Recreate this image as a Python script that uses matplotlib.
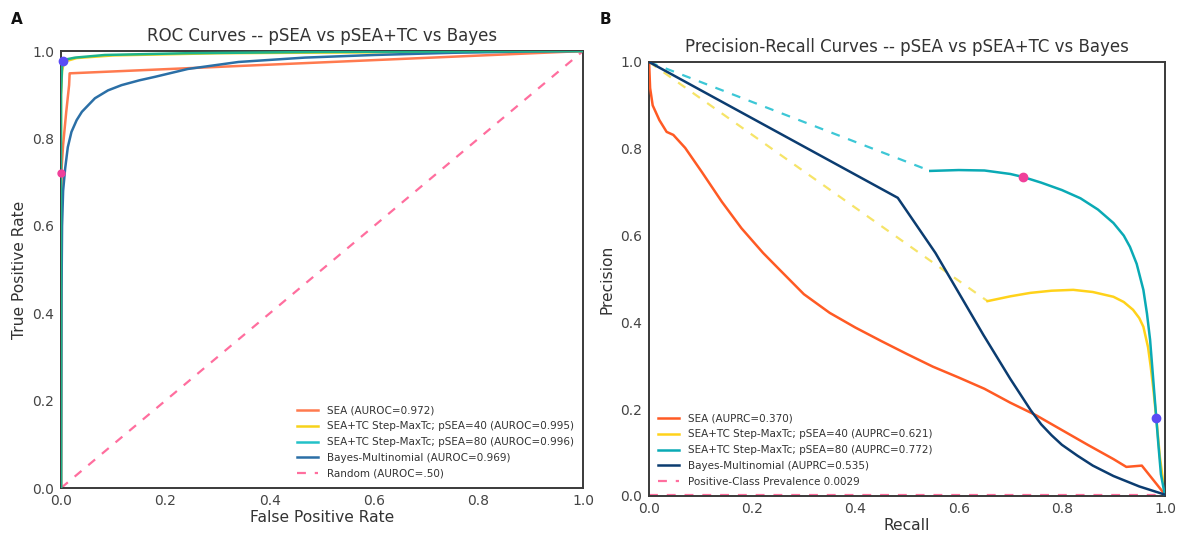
import matplotlib
matplotlib.use("Agg")
import matplotlib.pyplot as plt
from matplotlib.lines import Line2D

# ---------------- ROC data ----------------
roc_sea_fpr = [0, 0, 0.001, 0.004, 0.010, 0.0155, 0.0165, 1.0]
roc_sea_tpr = [0, 0.50, 0.73, 0.785, 0.861, 0.922, 0.949, 1.0]

roc_tc40_fpr = [0, 0, 0.002, 0.005, 0.01, 0.03, 0.1, 0.3, 1.0]
roc_tc40_tpr = [0, 0.90, 0.955, 0.970, 0.977, 0.984, 0.990, 0.995, 1.0]

roc_tc80_fpr = [0, 0, 0.002, 0.004, 0.010, 0.027, 0.084, 0.24, 0.5, 1.0]
roc_tc80_tpr = [0, 0.90, 0.965, 0.977, 0.981, 0.985, 0.991, 0.995, 0.998, 1.0]

roc_bayes_fpr = [0, 0.001, 0.002, 0.004, 0.008, 0.013, 0.020, 0.030, 0.040, 0.065, 0.090,
                 0.116, 0.150, 0.180, 0.243, 0.340, 0.467, 0.60, 0.75, 0.90, 1.0]
roc_bayes_tpr = [0, 0.45, 0.60, 0.68, 0.732, 0.780, 0.815, 0.842, 0.861, 0.892, 0.910,
                 0.922, 0.933, 0.941, 0.959, 0.975, 0.985, 0.991, 0.996, 0.999, 1.0]

roc_random = [0, 1]
roc_pt_purple = (0.004, 0.977)
roc_pt_pink = (0.0, 0.72)

roc_labels = ["SEA (AUROC=0.972)",
              "SEA+TC Step-MaxTc; pSEA=40 (AUROC=0.995)",
              "SEA+TC Step-MaxTc; pSEA=80 (AUROC=0.996)",
              "Bayes-Multinomial (AUROC=0.969)",
              "Random (AUROC=.50)"]

# ---------------- PR data ----------------
pr_sea_rec = [0, 0.002, 0.007, 0.020, 0.034, 0.047, 0.070, 0.102, 0.141, 0.179, 0.221,
              0.25, 0.30, 0.35, 0.40, 0.45, 0.50, 0.55, 0.60, 0.65, 0.70, 0.75, 0.80,
              0.85, 0.90, 0.925, 0.955, 1.0]
pr_sea_prec = [1.0, 0.94, 0.900, 0.866, 0.839, 0.832, 0.802, 0.747, 0.678, 0.617, 0.560,
               0.525, 0.465, 0.422, 0.388, 0.357, 0.327, 0.298, 0.273, 0.247, 0.215, 0.186, 0.152,
               0.118, 0.085, 0.067, 0.070, 0.003]

pr_tc40_dash_rec = [0, 0.656]
pr_tc40_dash_prec = [1.0, 0.449]
pr_tc40_rec = [0.656, 0.70, 0.739, 0.78, 0.822, 0.86, 0.90, 0.92, 0.938, 0.95, 0.958, 0.967,
               0.972, 0.977, 0.983, 0.990, 1.0]
pr_tc40_prec = [0.449, 0.460, 0.468, 0.473, 0.475, 0.470, 0.459, 0.447, 0.429, 0.410, 0.390,
                0.343, 0.300, 0.250, 0.180, 0.090, 0.0]

pr_tc80_dash_rec = [0, 0.545]
pr_tc80_dash_prec = [1.0, 0.749]
pr_tc80_rec = [0.545, 0.60, 0.65, 0.70, 0.725, 0.76, 0.80, 0.836, 0.87, 0.90, 0.92, 0.932,
               0.945, 0.958, 0.965, 0.971, 0.977, 0.983, 0.987, 0.992, 1.0]
pr_tc80_prec = [0.749, 0.751, 0.750, 0.742, 0.735, 0.722, 0.705, 0.686, 0.660, 0.629, 0.600,
                0.574, 0.535, 0.475, 0.420, 0.360, 0.270, 0.180, 0.120, 0.050, 0.0]

pr_bayes_rec = [0, 0.482, 0.555, 0.648, 0.70, 0.74, 0.76, 0.78, 0.80, 0.83, 0.86, 0.90, 0.95, 1.0]
pr_bayes_prec = [1.0, 0.687, 0.560, 0.371, 0.270, 0.197, 0.165, 0.140, 0.118, 0.093, 0.070,
                 0.046, 0.022, 0.003]

prevalence = 0.0029
pr_pt_pink = (0.725, 0.735)
pr_pt_purple = (0.983, 0.18)

pr_labels = ["SEA (AUPRC=0.370)",
             "SEA+TC Step-MaxTc; pSEA=40 (AUPRC=0.621)",
             "SEA+TC Step-MaxTc; pSEA=80 (AUPRC=0.772)",
             "Bayes-Multinomial (AUPRC=0.535)",
             "Positive-Class Prevalence 0.0029"]

ticks = [0.0, 0.2, 0.4, 0.6, 0.8, 1.0]

plt.rcParams['font.family'] = ['DejaVu Sans']

fig = plt.figure(figsize=(11.78, 5.34), dpi=100)
ax1 = fig.add_axes([0.0518, 0.0861, 0.4431, 0.8183])
ax2 = fig.add_axes([0.5510, 0.0712, 0.4380, 0.8127])

def style(ax):
    ax.set_xlim(0, 1)
    ax.set_ylim(0, 1)
    ax.set_xticks(ticks)
    ax.set_yticks(ticks)
    ax.set_xticklabels([f"{t:.1f}" for t in ticks])
    ax.set_yticklabels([f"{t:.1f}" for t in ticks])
    ax.tick_params(length=0, labelsize=10, colors="#444444", pad=5)
    ax.tick_params(axis="x", pad=4)
    for s in ax.spines.values():
        s.set_color("#3a3a3a")
        s.set_linewidth(1.4)

# ROC
c_sea = "#FF7A4F"
c_y = "#F7D21A"
c_g = "#1DB38A"
c_b = "#2B6FA6"
c_pink = "#FF6E9E"
ax1.plot(roc_random, roc_random, ls=(0, (4, 4)), color=c_pink, lw=1.6, zorder=1)
ax1.plot(roc_sea_fpr, roc_sea_tpr, color=c_sea, lw=1.8, zorder=3)
ax1.plot(roc_tc40_fpr, roc_tc40_tpr, color=c_y, lw=1.8, zorder=2)
ax1.plot(roc_tc80_fpr, roc_tc80_tpr, color=c_g, lw=1.8, zorder=4)
ax1.plot(roc_bayes_fpr, roc_bayes_tpr, color=c_b, lw=1.8, zorder=3)
ax1.plot(*roc_pt_purple, 'o', color="#5B4BF5", ms=6, zorder=6, clip_on=False)
ax1.plot(*roc_pt_pink, 'o', color="#F0409A", ms=5, zorder=6, clip_on=False)
style(ax1)
h1 = [Line2D([], [], color=c_sea, lw=1.8), Line2D([], [], color=c_y, lw=1.8),
      Line2D([], [], color="#22C1C8", lw=1.8), Line2D([], [], color=c_b, lw=1.8),
      Line2D([], [], color=c_pink, lw=1.6, ls=(0, (4, 4)))]
ax1.legend(h1, roc_labels, loc="lower right", frameon=False, fontsize=7.5,
           labelcolor="#333333", handlelength=2.0, handletextpad=0.8,
           borderaxespad=0.5, labelspacing=0.55)
ax1.set_title("ROC Curves -- pSEA vs pSEA+TC vs Bayes", fontsize=12, color="#333333", pad=7)
ax1.set_xlabel("False Positive Rate", fontsize=11.2, color="#333333", labelpad=1.5)
ax1.set_ylabel("True Positive Rate", fontsize=11.2, color="#333333")

# PR
p_sea = "#FF5A24"
p_y = "#FFD21A"
p_y_d = "#F6E468"
p_t = "#0AAAB5"
p_t_d = "#3CC7D6"
p_b = "#0B3C70"
ax2.axhline(prevalence, ls=(0, (4, 4)), color=c_pink, lw=1.6, zorder=1)
ax2.plot(pr_sea_rec, pr_sea_prec, color=p_sea, lw=1.8, zorder=3)
ax2.plot(pr_tc40_dash_rec, pr_tc40_dash_prec, color=p_y_d, lw=1.6, ls=(0, (4, 4)), zorder=2)
ax2.plot(pr_tc40_rec, pr_tc40_prec, color=p_y, lw=1.8, zorder=2)
ax2.plot(pr_tc80_dash_rec, pr_tc80_dash_prec, color=p_t_d, lw=1.6, ls=(0, (4, 4)), zorder=2)
ax2.plot(pr_tc80_rec, pr_tc80_prec, color=p_t, lw=1.8, zorder=3)
ax2.plot(pr_bayes_rec, pr_bayes_prec, color=p_b, lw=1.8, zorder=4)
ax2.plot(*pr_pt_pink, 'o', color="#F0409A", ms=6, zorder=6)
ax2.plot(*pr_pt_purple, 'o', color="#5B4BF5", ms=6, zorder=6)
style(ax2)
h2 = [Line2D([], [], color=p_sea, lw=1.8), Line2D([], [], color=p_y, lw=1.8),
      Line2D([], [], color=p_t, lw=1.8), Line2D([], [], color=p_b, lw=1.8),
      Line2D([], [], color=c_pink, lw=1.6, ls=(0, (4, 4)))]
ax2.legend(h2, pr_labels, loc="lower left", frameon=False, fontsize=7.5,
           labelcolor="#333333", handlelength=2.0, handletextpad=0.8,
           borderaxespad=0.5, labelspacing=0.55)
ax2.set_title("Precision-Recall Curves -- pSEA vs pSEA+TC vs Bayes", fontsize=12, color="#333333", pad=7)
ax2.set_xlabel("Recall", fontsize=11.2, color="#333333", labelpad=1.5)
ax2.set_ylabel("Precision", fontsize=11.2, color="#333333")

fig.text(0.009, 0.955, "A", fontsize=11, fontweight="bold", color="#111111")
fig.text(0.509, 0.955, "B", fontsize=11, fontweight="bold", color="#111111")

fig.savefig("out.png", dpi=100)
